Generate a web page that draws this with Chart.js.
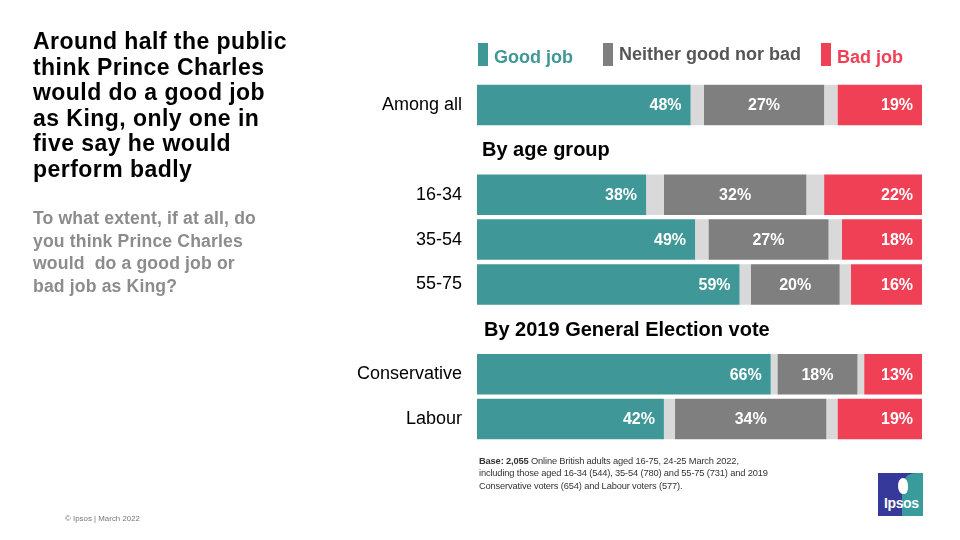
<!DOCTYPE html>
<html><head><meta charset="utf-8">
<script src="https://cdn.jsdelivr.net/npm/chart.js@4"></script>
<style>
html,body{margin:0;padding:0;background:#fff;}
#wrap{position:relative;width:960px;height:540px;overflow:hidden;font-family:"Liberation Sans",Arial,sans-serif;}
canvas{position:absolute;left:0;top:0;}
.t{position:absolute;white-space:nowrap;}
#title{left:33px;top:29px;font-size:23px;font-weight:bold;line-height:25.5px;color:#000;letter-spacing:0.45px;}
#sub{left:33px;top:207px;font-size:17.6px;font-weight:bold;line-height:22.5px;color:#8c8c8c;letter-spacing:0.15px;}
#foot{left:479px;top:455px;font-size:9.3px;line-height:12.3px;color:#333;letter-spacing:-0.15px;}
#copy{left:65px;top:514px;font-size:7.9px;color:#777;}
.lg{position:absolute;top:43px;height:23px;}
.lb{position:absolute;left:0;top:0;width:10px;height:23px;}
.lt{position:absolute;left:16px;font-size:18px;font-weight:bold;white-space:nowrap;}
#logo{position:absolute;left:878px;top:473px;width:45px;height:43px;background:#37399a;overflow:hidden;}
#logo .tl{position:absolute;left:24px;top:0;width:40px;height:43px;background:#3a9b9c;border-radius:14px 0 0 0;}
#logo .hd{position:absolute;left:20px;top:5px;width:10px;height:16px;background:#fff;border-radius:50% 50% 40% 50%;}
#logo .tx{position:absolute;left:6px;top:22px;font-size:14px;font-weight:bold;color:#fff;letter-spacing:-0.4px;}
</style></head>
<body><div id="wrap">
<canvas id="c" width="960" height="540"></canvas>
<div class="t" id="title">Around half the public<br>think Prince Charles<br>would do a good job<br>as King, only one in<br>five say he would<br>perform badly</div>
<div class="t" id="sub">To what extent, if at all, do<br>you think Prince Charles<br>would&nbsp; do a good job or<br>bad job as King?</div>
<div class="t" id="foot"><b>Base: 2,055</b> Online British adults aged 16-75, 24-25 March 2022,<br>including those aged 16-34 (544), 35-54 (780) and 55-75 (731) and 2019<br>Conservative voters (654) and Labour voters (577).</div>
<div class="t" id="copy">© Ipsos | March 2022</div>
<div id="legend"></div>
<div id="logo"><div class="tl"></div><div class="hd"></div><div class="tx">Ipsos</div></div>
</div>
<script>
// ---- data ----
const rowLabels = ["Among all", "", "16-34", "35-54", "55-75", "", "Conservative", "Labour"];
const headerLabels = [null, "By age group", null, null, null, "By 2019 General Election vote", null, null];
const goodJob    = [48, null, 38, 49, 59, null, 66, 42];
const gapBefore  = [3, null, 4, 3, 2.5, null, 1.5, 2.5];
const neither    = [27, null, 32, 27, 20, null, 18, 34];
const gapAfter   = [3, null, 4, 3, 2.5, null, 1.5, 2.5];
const badJob     = [19, null, 22, 18, 16, null, 13, 19];
const seriesNames = ["Good job", "Neither good nor bad", "Bad job"];

const TEAL = "#409797", GREY = "#7f7f7f", LIGHT = "#d9d9d9", RED = "#ef4056";

// legend (HTML)
const legendPos = [{x:478, c:TEAL, tc:TEAL, ty:4}, {x:603, c:GREY, tc:"#555555", ty:1}, {x:821, c:RED, tc:RED, ty:4}];
const lgEl = document.getElementById("legend");
seriesNames.forEach((n, i) => {
  const p = legendPos[i];
  const d = document.createElement("div");
  d.className = "lg"; d.style.left = p.x + "px";
  d.innerHTML = '<div class="lb" style="background:' + p.c + '"></div><div class="lt" style="color:' + p.tc + ';top:' + p.ty + 'px">' + n + '</div>';
  lgEl.appendChild(d);
});

const labelPlugin = {
  id: "labels",
  afterDatasetsDraw(chart) {
    const ctx = chart.ctx;
    const y = chart.scales.y;
    ctx.save();
    // headers
    ctx.fillStyle = "#000";
    ctx.font = "bold 20px 'Liberation Sans', Arial, sans-serif";
    ctx.textAlign = "left"; ctx.textBaseline = "middle";
    headerLabels.forEach((h, i) => {
      if (h) ctx.fillText(h, chart.chartArea.left + (i > 2 ? 7 : 5), y.getPixelForValue(i) + 1);
    });
    // values
    ctx.fillStyle = "#fff";
    ctx.font = "bold 16px 'Liberation Sans', Arial, sans-serif";
    chart.data.datasets.forEach((ds, di) => {
      if (!ds.showValue) return;
      const meta = chart.getDatasetMeta(di);
      meta.data.forEach((bar, i) => {
        const v = ds.data[i];
        if (v == null) return;
        const txt = v + "%";
        if (ds.showValue === "center") {
          ctx.textAlign = "center";
          ctx.fillText(txt, (bar.x + bar.base) / 2, bar.y + 1);
        } else {
          ctx.textAlign = "right";
          ctx.fillText(txt, bar.x - 9, bar.y + 1);
        }
      });
    });
    ctx.restore();
  }
};

const mk = (label, data, color, showValue) => ({label, data, backgroundColor: color, borderWidth: 0, showValue,
  barPercentage: 0.9, categoryPercentage: 1.0});

new Chart(document.getElementById("c"), {
  type: "bar",
  data: {
    labels: rowLabels,
    datasets: [
      mk(seriesNames[0], goodJob, TEAL, "right"),
      mk("Don't know", gapBefore, LIGHT, null),
      mk(seriesNames[1], neither, GREY, "center"),
      mk("Don't know ", gapAfter, LIGHT, null),
      mk(seriesNames[2], badJob, RED, "right")
    ]
  },
  options: {
    indexAxis: "y",
    responsive: false,
    animation: false,
    layout: {padding: {left: 327, right: 38, top: 82.5, bottom: 98.5}},
    plugins: {legend: {display: false}, tooltip: {enabled: false}},
    scales: {
      x: {stacked: true, min: 0, max: 100, display: false},
      y: {
        stacked: true,
        grid: {display: false, drawBorder: false},
        border: {display: false},
        ticks: {color: "#000", font: {size: 18, family: "'Liberation Sans', Arial, sans-serif"}, padding: 7},
        afterFit(s) { s.width = 150; }
      }
    }
  },
  plugins: [labelPlugin]
});
</script>
</body></html>
